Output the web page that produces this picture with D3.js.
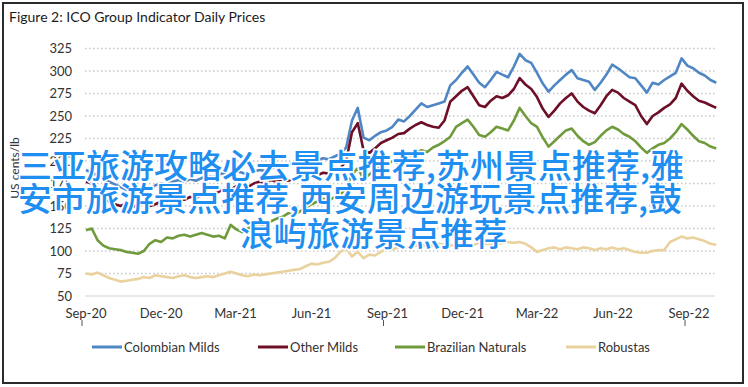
<!DOCTYPE html>
<html lang="en">
<head>
    <meta charset="UTF-8">
    <title>ICO Group Indicator Daily Prices</title>
    <script src="https://d3js.org/d3.v7.min.js"></script>
    <style>
        body { margin: 0; background: #fff; }
        svg { display: block; font-family: Lato, "Open Sans", sans-serif; }
    </style>
</head>
<body>
    <div id="chart"></div>

    <script>
        // weekly readings from 1 Sep 2020, US cents/lb
        var startDate = "2020-09-01";

        var colombianMilds = [
            190, 187, 184, 180, 177, 174, 171, 168, 166, 167, 170, 169, 173, 175, 174, 177, 179, 177, 180, 178,
            181, 183, 182, 185, 187, 186, 189, 187, 185, 188, 190, 189, 192, 194, 193, 196, 198, 197, 200, 198,
            201, 203, 202, 205, 208, 215, 245, 259, 226, 223, 228, 232, 234, 238, 246, 244, 250, 257, 264, 260,
            262, 264, 266, 284, 290, 298, 305, 296, 287, 282, 290, 299, 296, 293, 305, 319, 312, 309, 298, 286,
            277, 284, 290, 296, 301, 292, 290, 288, 279, 287, 296, 307, 303, 298, 293, 292, 284, 276, 287, 285,
            290, 294, 298, 314, 306, 303, 298, 295, 290, 287
        ];
        var otherMilds = [
            177, 175, 168, 160, 155, 152, 150, 153, 149, 151, 154, 150, 152, 155, 153, 156, 158, 157, 160, 159,
            162, 164, 163, 166, 169, 168, 172, 174, 171, 175, 177, 176, 179, 177, 180, 178, 181, 183, 182, 185,
            184, 187, 186, 189, 192, 200, 232, 242, 212, 209, 214, 220, 223, 226, 230, 231, 236, 240, 243, 240,
            238, 237, 245, 266, 272, 278, 282, 272, 262, 260, 267, 272, 270, 273, 280, 292, 285, 280, 271, 258,
            249, 256, 264, 270, 275, 266, 260, 256, 253, 262, 272, 279, 276, 270, 266, 262, 250, 241, 250, 254,
            259, 263, 270, 286, 278, 272, 267, 265, 262, 259
        ];
        var brazilianNaturals = [
            123, 125, 112, 106, 103, 102, 101, 99, 98, 97, 100, 108, 112, 110, 115, 114, 117, 118, 116, 118,
            120, 118, 116, 117, 114, 129, 124, 121, 125, 128, 126, 130, 133, 136, 138, 142, 140, 144, 148, 152,
            155, 158, 156, 160, 163, 170, 185, 192, 180, 185, 190, 193, 196, 200, 198, 203, 206, 208, 212, 210,
            215, 218, 222, 227, 238, 242, 246, 238, 229, 227, 232, 238, 236, 234, 245, 259, 250, 242, 238, 226,
            216, 222, 228, 234, 236, 228, 222, 218, 221, 228, 234, 238, 235, 230, 227, 222, 215, 209, 214, 218,
            220, 225, 232, 241, 235, 228, 222, 220, 216, 214
        ];
        var robustas = [
            75, 74, 76, 73, 70, 68, 66, 67, 68, 69, 71, 70, 73, 72, 71, 70, 72, 73, 71, 70,
            71, 72, 71, 73, 75, 77, 75, 73, 72, 74, 73, 74, 75, 76, 77, 78, 79, 80, 83, 86,
            85, 87, 88, 92, 99, 103, 94, 99, 92, 96, 95, 99, 103, 102, 104, 103, 105, 106, 107, 105,
            106, 108, 107, 106, 107, 108, 106, 107, 109, 108, 107, 108, 109, 110, 109, 110, 108, 104, 99, 101,
            103, 104, 102, 104, 103, 102, 104, 103, 101, 103, 102, 104, 102, 103, 101, 99, 98, 98, 100, 101,
            101, 110, 113, 116, 114, 115, 113, 111, 108, 107
        ];

        var seriesNames = ["Colombian Milds", "Other Milds", "Brazilian Naturals", "Robustas"];
        var seriesColors = ["#4f86c4", "#6d0f27", "#6f9b3c", "#ead29e"];
        var yTicks = [50, 75, 100, 125, 150, 175, 200, 225, 250, 275, 300, 325];
        var xTickDates = ["2020-09-01", "2020-12-01", "2021-03-01", "2021-06-01", "2021-09-01",
            "2021-12-01", "2022-03-01", "2022-06-01", "2022-09-01"];
        var yearMarks = ["2020-09-01", "2021-09-01", "2022-09-01"];
        var overlayLines = [
            "三亚旅游攻略必去景点推荐,苏州景点推荐,雅",
            "安市旅游景点推荐,西安周边游玩景点推荐,鼓",
            "浪屿旅游景点推荐"
        ];

        var parse = d3.timeParse("%Y-%m-%d");
        var t0 = parse(startDate);
        var allSeries = [colombianMilds, otherMilds, brazilianNaturals, robustas].map(function (vals, k) {
            return {
                name: seriesNames[k],
                color: seriesColors[k],
                values: vals.map(function (v, i) { return { date: d3.timeDay.offset(t0, i * 7), value: v }; })
            };
        });

        var W = 748, H = 387;
        var svg = d3.select("#chart").append("svg")
            .attr("width", W)
            .attr("height", H);

        var x = d3.scaleTime()
            .domain([parse("2020-09-01"), parse("2022-09-01")])
            .range([86, 689]);
        var y = d3.scaleLinear()
            .domain([50, 325])
            .range([296, 48.5]);
        var plotLeft = 85, plotRight = 715;

        // frame
        svg.append("rect")
            .attr("x", 3).attr("y", 3)
            .attr("width", 740).attr("height", 380)
            .attr("fill", "none")
            .attr("stroke", "#2b2b2b")
            .attr("stroke-width", 2);

        svg.append("text")
            .attr("x", 9).attr("y", 22)
            .attr("font-size", 14)
            .attr("fill", "#1a1a1a")
            .text("Figure 2: ICO Group Indicator Daily Prices");

        // gridlines
        svg.append("g")
            .selectAll("line")
            .data(yTicks)
            .enter().append("line")
            .attr("x1", plotLeft).attr("x2", plotRight)
            .attr("y1", function (d) { return y(d); })
            .attr("y2", function (d) { return y(d); })
            .attr("stroke", function (d) { return d === 50 ? "#d4d4d4" : "#c8c8c8"; })
            .attr("stroke-width", function (d) { return d === 50 ? 1.2 : 1.4; })
            .attr("stroke-dasharray", function (d) { return d === 50 ? null : "1.5,2.5"; });

        // y labels
        svg.append("g")
            .selectAll("text")
            .data(yTicks)
            .enter().append("text")
            .attr("x", 72)
            .attr("y", function (d) { return y(d); })
            .attr("dy", "0.35em")
            .attr("text-anchor", "end")
            .attr("font-size", 13)
            .attr("fill", "#333")
            .text(function (d) { return d; });

        svg.append("text")
            .attr("transform", "translate(19,168) rotate(-90)")
            .attr("text-anchor", "middle")
            .attr("font-size", 12)
            .attr("fill", "#333")
            .text("US cents/lb");

        // x labels
        var fmt = d3.timeFormat("%b-%y");
        svg.append("g")
            .selectAll("text")
            .data(xTickDates.map(parse))
            .enter().append("text")
            .attr("x", function (d) { return x(d); })
            .attr("y", 318)
            .attr("text-anchor", "middle")
            .attr("font-size", 13)
            .attr("fill", "#333")
            .text(function (d) { return fmt(d); });

        svg.append("g")
            .selectAll("line")
            .data(yearMarks.map(parse))
            .enter().append("line")
            .attr("x1", function (d) { return x(d) - 4; })
            .attr("x2", function (d) { return x(d) - 4; })
            .attr("y1", 320).attr("y2", 326)
            .attr("stroke", "#555");

        // series
        var line = d3.line()
            .x(function (d) { return x(d.date); })
            .y(function (d) { return y(d.value); });

        svg.append("g")
            .selectAll("path")
            .data(allSeries)
            .enter().append("path")
            .attr("d", function (d) { return line(d.values); })
            .attr("fill", "none")
            .attr("stroke", function (d) { return d.color; })
            .attr("stroke-width", 2.6)
            .attr("stroke-linejoin", "round");

        // legend
        var legendX = [92, 258, 395, 566];
        var legend = svg.append("g")
            .selectAll("g")
            .data(allSeries)
            .enter().append("g")
            .attr("transform", function (d, i) { return "translate(" + legendX[i] + ",347)"; });

        legend.append("line")
            .attr("x1", 0).attr("x2", 30)
            .attr("stroke", function (d) { return d.color; })
            .attr("stroke-width", 3);

        legend.append("text")
            .attr("x", 32)
            .attr("dy", "0.35em")
            .attr("font-size", 13)
            .attr("fill", "#333")
            .text(function (d) { return d.name; });

        // overlaid caption
        var overlayPos = [[18, 164, 666], [18, 197, 664], [240, 232, 267]];
        svg.append("g")
            .selectAll("text")
            .data(overlayLines)
            .enter().append("text")
            .attr("x", function (d, i) { return overlayPos[i][0]; })
            .attr("y", function (d, i) { return overlayPos[i][1]; })
            .attr("textLength", function (d, i) { return overlayPos[i][2]; })
            .attr("lengthAdjust", "spacingAndGlyphs")
            .attr("dominant-baseline", "central")
            .attr("font-family", "'Noto Sans CJK SC', sans-serif")
            .attr("font-weight", 500)
            .attr("font-size", 33)
            .attr("fill", "#1f8ef1")
            .attr("stroke", "#fff")
            .attr("stroke-width", 3)
            .attr("paint-order", "stroke")
            .text(function (d) { return d; });
    </script>
</body>
</html>
